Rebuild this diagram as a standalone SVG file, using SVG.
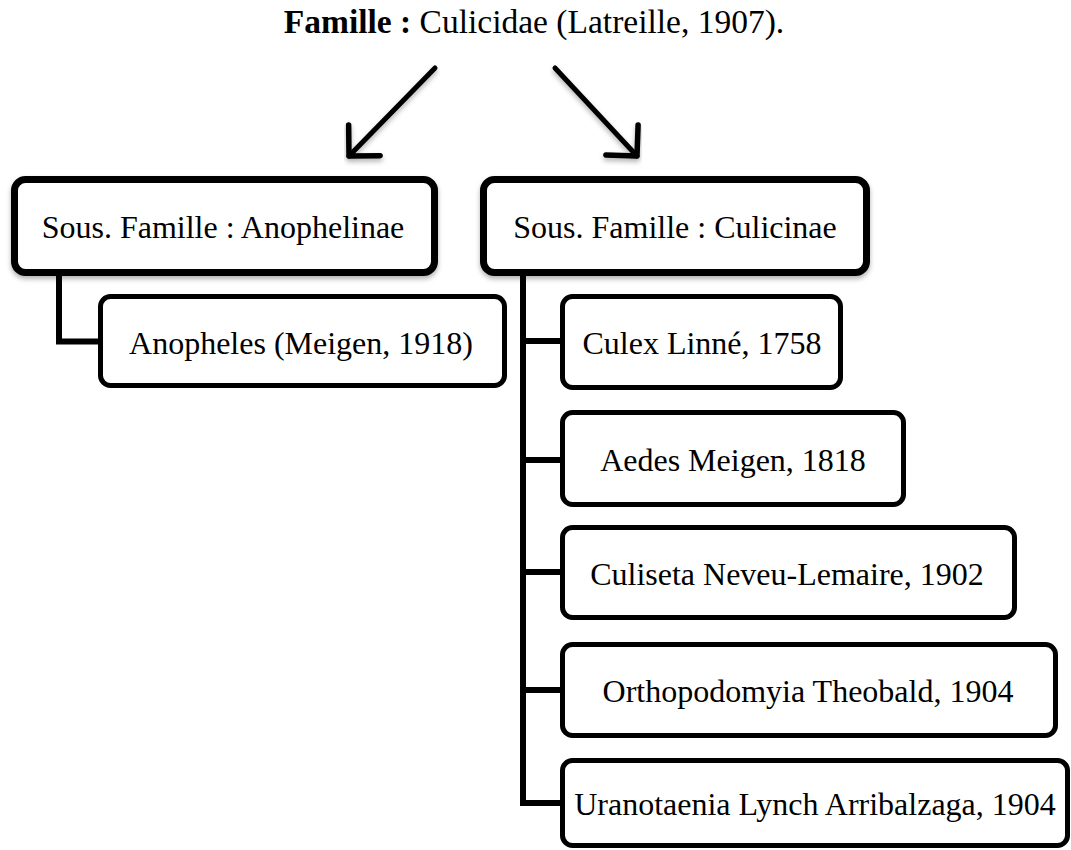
<svg xmlns="http://www.w3.org/2000/svg" width="1071" height="850" viewBox="0 0 1071 850">
<defs>
<filter id="sh" x="-5%" y="-10%" width="110%" height="130%">
<feDropShadow dx="0" dy="3" stdDeviation="2.5" flood-color="#000" flood-opacity="0.3"/>
</filter>
<marker id="ah" markerWidth="12" markerHeight="12" viewBox="-11 -6 12 12" refX="0" refY="0" orient="auto" markerUnits="strokeWidth">
<path d="M-4.4,-4.4 L0,0 L-4.4,4.4" fill="none" stroke="#000" stroke-width="1.1" stroke-linecap="round" stroke-linejoin="round"/>
</marker>
</defs>
<style>
.t{font-family:"Liberation Serif","Times New Roman",serif;font-size:32px;fill:#000;text-anchor:middle;dominant-baseline:central}
.p{fill:#fff;stroke:#000;stroke-width:7}
.c{fill:#fff;stroke:#000;stroke-width:5}
.ln{fill:none;stroke:#000;stroke-width:6}
.ar{fill:none;stroke:#000;stroke-width:5;stroke-linecap:round}
</style>
<rect width="1071" height="850" fill="#fff"/>
<g id="title">
<text x="534" y="33" font-family="Liberation Serif,'Times New Roman',serif" font-size="33.5" text-anchor="middle"><tspan font-weight="bold">Famille :</tspan> Culicidae (Latreille, 1907).</text>
</g>
<g id="connectors">
<line class="ar" x1="435" y1="68" x2="349" y2="156" marker-end="url(#ah)" filter="url(#sh)"/>
<line class="ar" x1="555" y1="68" x2="637" y2="156" marker-end="url(#ah)" filter="url(#sh)"/>
<path class="ln" d="M59,276 V341.5 H100"/>
<path class="ln" d="M523,276 V803"/>
<path class="ln" d="M520,341 H562 M520,460 H562 M520,572 H562 M520,690 H562 M520,803 H562"/>
</g>
<g id="n-anophelinae">
<rect class="p" x="14.5" y="179.5" width="420" height="93" rx="11" filter="url(#sh)"/>
<text class="t" x="223" y="227">Sous. Famille : Anophelinae</text>
</g>
<g id="n-culicinae">
<rect class="p" x="483.5" y="179.5" width="383" height="93" rx="11" filter="url(#sh)"/>
<text class="t" x="675" y="227">Sous. Famille : Culicinae</text>
</g>
<g id="n-anopheles">
<rect class="c" x="100.5" y="296.5" width="404" height="89" rx="10"/>
<text class="t" x="301" y="343">Anopheles (Meigen, 1918)</text>
</g>
<g id="n-culex">
<rect class="c" x="562.5" y="296.5" width="278" height="91" rx="10"/>
<text class="t" x="702" y="343">Culex Linné, 1758</text>
</g>
<g id="n-aedes">
<rect class="c" x="562.5" y="412.5" width="341" height="92" rx="10"/>
<text class="t" x="733" y="460">Aedes Meigen, 1818</text>
</g>
<g id="n-culiseta">
<rect class="c" x="562.5" y="527.5" width="452" height="90" rx="10"/>
<text class="t" x="787" y="574">Culiseta Neveu-Lemaire, 1902</text>
</g>
<g id="n-orthopodomyia">
<rect class="c" x="562.5" y="644.5" width="493" height="91" rx="10"/>
<text class="t" x="808" y="691">Orthopodomyia Theobald, 1904</text>
</g>
<g id="n-uranotaenia">
<rect class="c" x="562.5" y="760.5" width="505" height="85" rx="10"/>
<text class="t" x="815" y="804">Uranotaenia Lynch Arribalzaga, 1904</text>
</g>
</svg>
